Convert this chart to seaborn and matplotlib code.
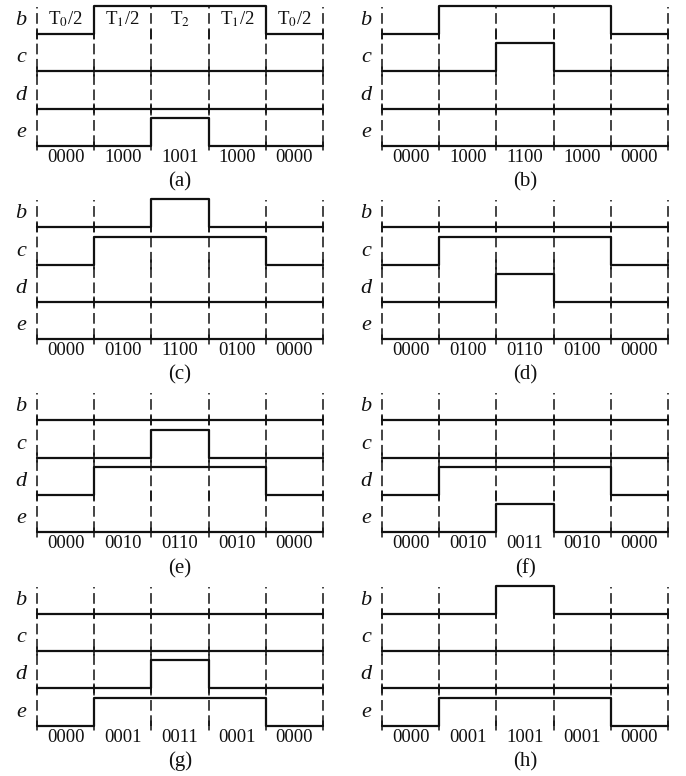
import numpy as np
import pandas as pd
import matplotlib
matplotlib.use("Agg")
import matplotlib.pyplot as plt
import seaborn as sns

# ---- data ----
signals = ["b", "c", "d", "e"]
panel_labels = ["(a)", "(b)", "(c)", "(d)", "(e)", "(f)", "(g)", "(h)"]
codes_a = ["0000", "1000", "1001", "1000", "0000"]
codes_b = ["0000", "1000", "1100", "1000", "0000"]
codes_c = ["0000", "0100", "1100", "0100", "0000"]
codes_d = ["0000", "0100", "0110", "0100", "0000"]
codes_e = ["0000", "0010", "0110", "0010", "0000"]
codes_f = ["0000", "0010", "0011", "0010", "0000"]
codes_g = ["0000", "0001", "0011", "0001", "0000"]
codes_h = ["0000", "0001", "1001", "0001", "0000"]
all_codes = [codes_a, codes_b, codes_c, codes_d, codes_e, codes_f, codes_g, codes_h]
time_labels = [r"T$_0$/2", r"T$_1$/2", r"T$_2$", r"T$_1$/2", r"T$_0$/2"]

# ---- style ----
sns.set_theme(style="white")
plt.rcParams["font.family"] = ["Liberation Serif", "DejaVu Serif"]
plt.rcParams["mathtext.fontset"] = "stix"

W, H = 686, 776
fig = plt.figure(figsize=(W / 100, H / 100), dpi=100)

cell_w = 343.0
cell_h = 193.2
seg_px = 57.2
row_px = 37.3
high = 28.0 / row_px
e_base_px = 146.0
x0_px = [37.0, 39.0]

ink = "#111111"

for p, codes in enumerate(all_codes):
    r, c = divmod(p, 2)
    left = c * cell_w / W
    bottom = 1 - (r + 1) * cell_h / H
    ax = fig.add_axes([left, bottom, cell_w / W, cell_h / H])
    x0 = x0_px[c]
    ax.set_xlim(-x0 / seg_px, (cell_w - x0) / seg_px)
    ax.set_ylim(-(cell_h - e_base_px) / row_px, e_base_px / row_px)
    ax.axis("off")

    nseg = len(codes)
    # dashed boundaries
    top = 3 + 27.0 / row_px
    for i in range(nseg + 1):
        ax.plot([i, i], [0, top], color=ink, lw=1.1, linestyle=(0, (7.0, 3.0)),
                solid_capstyle="butt", dash_capstyle="butt")
        for k in range(4):
            ax.plot([i, i], [(3 - k) - 0.12, (3 - k) + 0.12], color=ink, lw=1.1)

    # waveforms
    for k, name in enumerate(signals):
        lev = [int(cd[k]) for cd in codes]
        lev = lev + [lev[-1]]
        df = pd.DataFrame({"t": np.arange(nseg + 1),
                           "v": (3 - k) + np.array(lev) * high})
        sns.lineplot(data=df, x="t", y="v", ax=ax, color=ink, lw=1.6,
                     drawstyle="steps-post", estimator=None, legend=False)
        ax.text(-16.0 / seg_px, (3 - k) + 13.5 / row_px, name, style="italic",
                fontsize=16, ha="center", va="center", color=ink)

    for i, cd in enumerate(codes):
        ax.text(i + 0.5, -11.5 / row_px, cd, fontsize=13.5, ha="center",
                va="center", color=ink)
    ax.text(nseg / 2, -36.0 / row_px, panel_labels[p], fontsize=15,
            ha="center", va="center", color=ink)
    ax.set_xlabel("")
    ax.set_ylabel("")

    if p == 0:
        for i, tl in enumerate(time_labels):
            ax.text(i + 0.5, 3 + 0.40, tl, fontsize=13.5, ha="center",
                    va="center", color=ink)

fig.savefig("out.png", dpi=100, facecolor="white")
